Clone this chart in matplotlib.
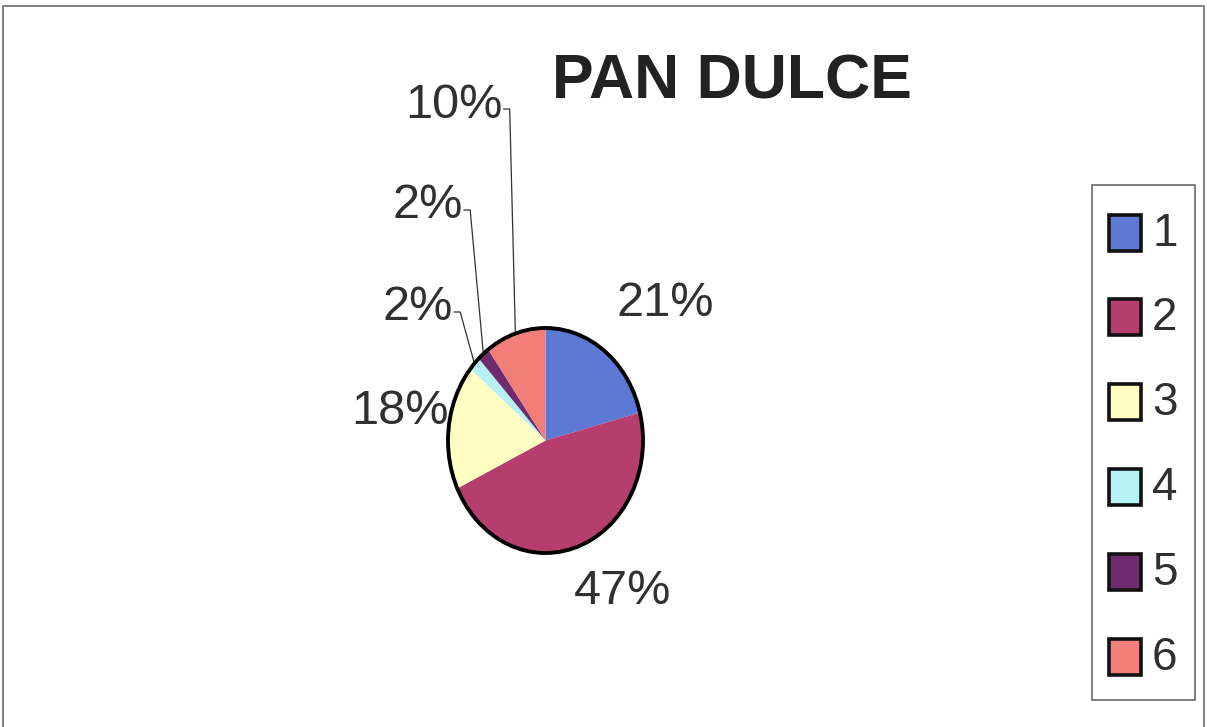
import matplotlib
matplotlib.use("Agg")
import matplotlib.pyplot as plt
from matplotlib.patches import Rectangle, Ellipse
import numpy as np

# Data
title = "PAN DULCE"
categories = ["1", "2", "3", "4", "5", "6"]
percentages = [21, 47, 18, 2, 2, 10]
colors = ["#5E78D6", "#B63E6F", "#FFFDC2", "#B6F1F6", "#6E2C6E", "#F17E78"]

W, H = 1207, 727
fig = plt.figure(figsize=(W / 100, H / 100), dpi=100)
fig.patch.set_facecolor("white")

# Overlay axes in pixel coordinates (y grows downward)
ov = fig.add_axes([0, 0, 1, 1])
ov.set_xlim(0, W)
ov.set_ylim(H, 0)
ov.axis("off")

# Pie geometry (pixel box of the ellipse)
cx, cy, rx, ry = 545.5, 440.5, 97.5, 112.5
pax = fig.add_axes([(cx - rx) / W, (H - cy - ry) / H, 2 * rx / W, 2 * ry / H])
pax.pie(percentages, colors=colors, startangle=90, counterclock=False,
        wedgeprops=dict(linewidth=0))
pax.set_aspect("auto")
pax.set_xlim(-1, 1)
pax.set_ylim(-1, 1)
pax.axis("off")
pax.add_patch(Ellipse((0, 0), 2, 2, fill=False, edgecolor="black", lw=2.8,
                      clip_on=False))

# Outer frame
ov.plot([3, 3, 1204, 1204], [H, 6, 6, H], color="#7a7a7a", lw=1.3)

# Title
ov.text(732, 82, title, ha="center", va="center", fontsize=45,
        fontweight="bold", family="Liberation Sans", color="#222222")

# Percentage labels; leader flag marks slices drawn with connector lines
label_pos = [(665, 303), (623, 591), (400, 411), (418, 308), (428, 206), (454, 105)]
leader = [False, False, False, True, True, True]
text_color = "#303030"

cum = np.cumsum([0] + percentages)
total = float(sum(percentages))
for i, (p, (lx, ly)) in enumerate(zip(percentages, label_pos)):
    t = ov.text(lx, ly, f"{p}%", ha="center", va="center", fontsize=35,
                family="Liberation Sans", color=text_color)
    if leader[i]:
        mid = 2 * np.pi * (cum[i] + cum[i + 1]) / 2 / total
        ax_x = cx + rx * np.sin(mid)
        ax_y = cy - ry * np.cos(mid)
        fig.canvas.draw()
        bb = t.get_window_extent()
        x0 = bb.x1 + 1
        yline = ly + 4
        ov.plot([x0, x0 + 6, ax_x], [yline, yline, ax_y], color="#333333",
                lw=0.9, solid_joinstyle="miter")

# Legend
ov.add_patch(Rectangle((1092, 185), 103, 515, fill=False, edgecolor="#6a6a6a",
                       lw=1.2))
y0, step = 232.5, 84.8
for i, (cat, col) in enumerate(zip(categories, colors)):
    yc = y0 + i * step
    ov.add_patch(Rectangle((1109, yc - 18), 32, 36, facecolor=col,
                           edgecolor="#111111", lw=2.6))
    ov.text(1152, yc + 1, cat, ha="left", va="center", fontsize=33,
            family="Liberation Sans", color=text_color)

fig.savefig("out.png", dpi=100, facecolor="white")
